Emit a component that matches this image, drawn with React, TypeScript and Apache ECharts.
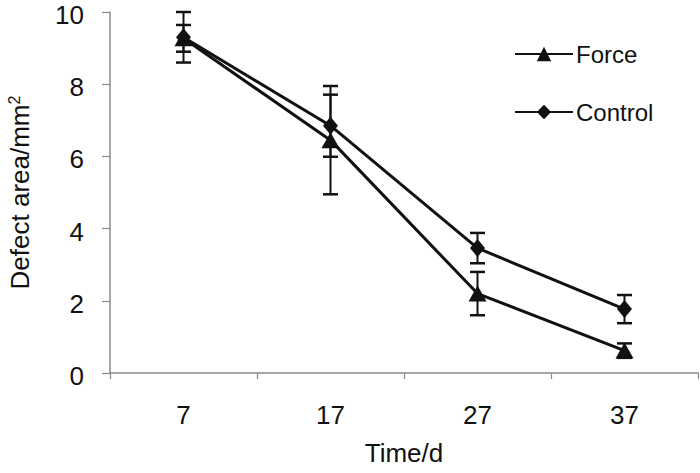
import React, { useEffect, useRef } from "react";
import * as echarts from "echarts";

const days = ["7", "17", "27", "37"];
const forceValues = [9.27, 6.45, 2.2, 0.62];
const forceErrors = [0.37, 1.5, 0.6, 0.2];
const controlValues = [9.3, 6.85, 3.46, 1.77];
const controlErrors = [0.7, 0.86, 0.42, 0.39];
const yTicks = [0, 2, 4, 6, 8, 10];

const FONT = "Liberation Sans";
const INK = "#111";
const AXIS = "#8a8a8a";

function errorData(values: number[], errs: number[]) {
  return values.map((v, i) => [i, v, v - errs[i], v + errs[i]]);
}

function renderErr(params: any, api: any) {
  const i = api.value(0);
  const lo = api.coord([i, api.value(2)]);
  const hi = api.coord([i, api.value(3)]);
  const w = 7.5;
  const style = { stroke: INK, lineWidth: 2 };
  const capStyle = { stroke: INK, lineWidth: 2.5 };
  return {
    type: "group",
    children: [
      { type: "line", shape: { x1: lo[0], y1: lo[1], x2: hi[0], y2: hi[1] }, style },
      { type: "line", shape: { x1: lo[0] - w, y1: lo[1], x2: lo[0] + w, y2: lo[1] }, style: capStyle },
      { type: "line", shape: { x1: hi[0] - w, y1: hi[1], x2: hi[0] + w, y2: hi[1] }, style: capStyle },
    ],
  };
}

export default function App() {
  const ref = useRef<HTMLDivElement>(null);
  useEffect(() => {
    if (!ref.current) return;
    const chart = echarts.init(ref.current, null, { renderer: "svg" });
    chart.setOption({
      animation: false,
      textStyle: { fontFamily: FONT },
      grid: { left: 110, right: 2, top: 12, bottom: 100, containLabel: false, outerBoundsMode: "none" },
      legend: {
        data: ["Force", "Control"],
        orient: "vertical",
        left: 514,
        top: 42,
        padding: 0,
        itemWidth: 58,
        itemHeight: 18,
        itemGap: 34,
        textStyle: { fontSize: 24, color: INK, fontFamily: FONT, padding: [0, 0, 0, -2] },
      },
      xAxis: {
        type: "category",
        data: days,
        boundaryGap: true,
        axisLine: { lineStyle: { color: AXIS, width: 1.5 } },
        axisTick: { show: true, length: 6, lineStyle: { color: AXIS, width: 1.2 } },
        axisLabel: { fontSize: 26, color: INK, margin: 29, fontFamily: FONT },
        name: "Time/d",
        nameLocation: "middle",
        nameGap: 67,
        nameTextStyle: { fontSize: 26, color: INK, fontFamily: FONT },
      },
      yAxis: {
        type: "value",
        min: 0,
        max: 10,
        interval: 2,
        splitLine: { show: false },
        axisLine: { show: true, lineStyle: { color: AXIS, width: 1.5 } },
        axisTick: { show: true, length: 8, lineStyle: { color: AXIS, width: 1.2 } },
        axisLabel: {
          fontSize: 26,
          lineHeight: 6,
          verticalAlign: "top",
          color: INK,
          margin: 26,
          fontFamily: FONT,
          formatter: (v: number) => (yTicks.includes(v) ? String(v) : ""),
        },
        name: "Defect area/mm{sup|2}",
        nameLocation: "middle",
        nameGap: 76,
        nameTextStyle: {
          fontSize: 26,
          color: INK,
          fontFamily: FONT,
          rich: { sup: { fontSize: 16, color: INK, fontFamily: FONT, verticalAlign: "top", padding: [0, 0, 12, 0] } },
        },
      },
      series: [
        {
          name: "ForceErr",
          type: "custom",
          clip: false,
          renderItem: renderErr,
          data: errorData(forceValues, forceErrors),
          z: 1,
        },
        {
          name: "ControlErr",
          type: "custom",
          clip: false,
          renderItem: renderErr,
          data: errorData(controlValues, controlErrors),
          z: 1,
        },
        {
          name: "Force",
          type: "line",
          data: forceValues,
          symbol: "triangle",
          symbolSize: [18, 16],
          lineStyle: { color: INK, width: 3 },
          itemStyle: { color: INK },
          clip: false,
          z: 3,
        },
        {
          name: "Control",
          type: "line",
          data: controlValues,
          symbol: "diamond",
          symbolSize: [15, 18],
          lineStyle: { color: INK, width: 3 },
          itemStyle: { color: INK },
          clip: false,
          z: 3,
        },
      ],
    });
    return () => chart.dispose();
  }, []);
  return <div ref={ref} style={{ width: 700, height: 473, position: "absolute", left: 0, top: 0 }} />;
}
